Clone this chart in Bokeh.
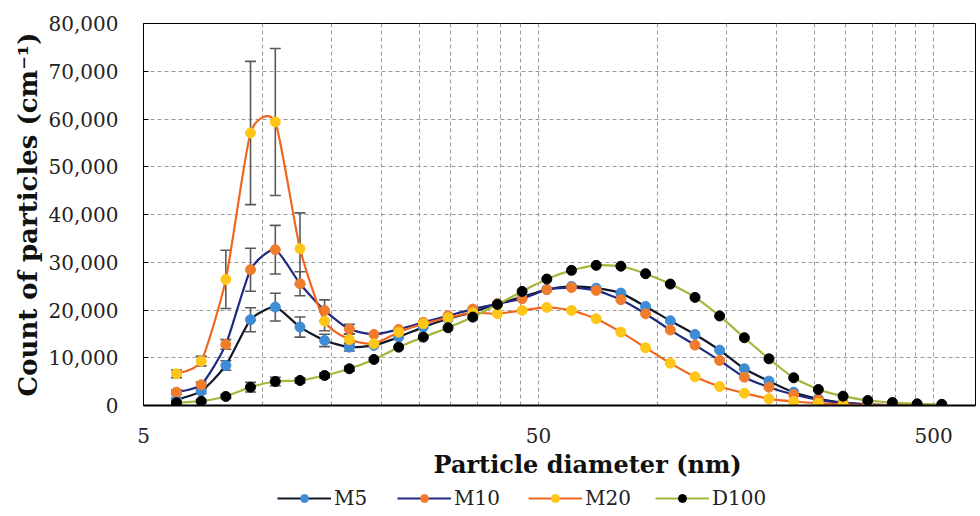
import numpy as np
from bokeh.plotting import figure
from bokeh.layouts import column
from bokeh.models import (ColumnDataSource, Whisker, TeeHead, FixedTicker,
                          NumeralTickFormatter, Legend, LegendItem, Range1d, Title)
from bokeh.embed import file_html
from bokeh.resources import INLINE

# ---------------- data ----------------
diameters = [6.06, 7.00, 8.08, 9.33, 10.78, 12.45, 14.37, 16.60, 19.16, 22.13,
             25.55, 29.51, 34.08, 39.35, 45.44, 52.48, 60.60, 69.98, 80.81, 93.32,
             107.8, 124.5, 143.7, 166.0, 191.6, 221.3, 255.5, 295.1, 340.8, 393.5,
             454.4, 524.8]

m5 = [1190, 3000, 8380, 17960, 20610, 16420, 13620, 12220, 12580, 14320,
      16420, 18170, 19560, 21320, 22700, 24300, 24940, 24570, 23540, 20750,
      17750, 14880, 11600, 7690, 5100, 2790, 1400, 600, 250, 100, 50, 20]
m10 = [2790, 4330, 12790, 28440, 32630, 25500, 19910, 16000, 14880, 15930,
       17400, 18790, 20190, 21300, 22360, 24250, 24700, 24100, 22150, 19220,
       15800, 12650, 9430, 5930, 3840, 2300, 1190, 500, 200, 80, 30, 10]
m20 = [6640, 9290, 26410, 57070, 59380, 32840, 17670, 13800, 12930, 15360,
       17120, 18380, 19430, 19220, 19910, 20540, 19910, 18170, 15360, 12090,
       8870, 6000, 3980, 2580, 1400, 840, 480, 200, 80, 30, 10, 5]
d100 = [560, 900, 1890, 3840, 5030, 5240, 6290, 7690, 9640, 12220,
        14320, 16280, 18510, 21170, 23890, 26480, 28300, 29350, 29170, 27600,
        25430, 22640, 18750, 14190, 9790, 5800, 3350, 1950, 1050, 630, 350, 250]

# error bars (first eight size channels)
err_m5 = [300, 500, 1000, 2500, 2900, 2100, 1300, 800]
err_m10 = [500, 600, 1000, 4500, 5100, 2500, 2200, 1000]
err_m20 = [800, 1000, 6100, 15000, 15400, 7500, 2000, 1200]
err_d100 = [200, 300, 400, 1000, 900, 500, 500, 500]

series_names = ["M5", "M10", "M20", "D100"]
x_title = "Particle diameter (nm)"
y_title = "Count of particles (cm\u207b\u00b9)"
x_ticks = [5, 50, 500]
x_minor = [10, 15, 20, 25, 30, 35, 40, 45, 100, 150, 200, 250, 300, 350, 400, 450, 1000]
y_ticks = [0, 10000, 20000, 30000, 40000, 50000, 60000, 70000, 80000]

# ---------------- style ----------------
FONT = "DejaVu Serif"
line_colors = ["#111827", "#1F2A80", "#F0661E", "#A8B43C"]
marker_colors = ["#3F8CD6", "#F07C2E", "#FFC61A", "#000000"]
legend_x = [134, 254, 385, 512]   # px offsets of legend entries from frame left
grid_color = "#9A9A9A"

p = figure(width=980, height=481, x_axis_type="log",
           x_range=Range1d(5, 638.6), y_range=Range1d(0, 80000),
           output_backend="svg", toolbar_location=None,
           min_border_left=143, min_border_right=5, min_border_top=23,
           min_border_bottom=76)
p.background_fill_color = "white"
p.outline_line_color = "black"
p.outline_line_width = 1

# axes
p.xaxis.ticker = FixedTicker(ticks=x_ticks, minor_ticks=x_minor)
p.xaxis.formatter = NumeralTickFormatter(format="0")
p.yaxis.ticker = FixedTicker(ticks=y_ticks)
p.yaxis.formatter = NumeralTickFormatter(format="0,0")

for ax in (p.xaxis, p.yaxis):
    ax.major_label_text_font = FONT
    ax.major_label_text_font_size = "20px"
    ax.major_label_text_color = "#222222"
    ax.axis_line_color = "black"
    ax.minor_tick_line_color = None

p.xaxis.axis_line_width = 2
p.xaxis.major_tick_line_color = None
p.xaxis.major_label_standoff = 16

p.yaxis.major_tick_in = 5
p.yaxis.major_tick_out = 0
p.yaxis.major_label_standoff = 25

# axis titles (as titles so they can be offset like the original)
p.add_layout(Title(text=x_title, align="left", offset=290, standoff=4,
                   text_font=FONT, text_font_size="24px", text_font_style="bold",
                   text_color="#111111"), "below")
p.add_layout(Title(text=y_title, align="center", offset=11, standoff=5,
                   text_font=FONT, text_font_size="26px", text_font_style="bold",
                   text_color="#111111"), "left")

# grid
p.xgrid.grid_line_color = grid_color
p.xgrid.grid_line_dash = "4 3"
p.xgrid.minor_grid_line_color = grid_color
p.xgrid.minor_grid_line_dash = "4 3"
p.ygrid.grid_line_color = grid_color
p.ygrid.grid_line_dash = "4 3"


def smooth_segments(xs, ys, k=10.0):
    """Cubic Bezier control points (Catmull-Rom style smoothing, like a
    spreadsheet's smoothed line) computed in log-x / linear-y space."""
    lx = np.log10(np.asarray(xs, float))
    y = np.asarray(ys, float)
    P = np.column_stack([lx, y])
    Pp = np.vstack([P[0], P, P[-1]])
    d = {key: [] for key in ("x0", "y0", "x1", "y1", "cx0", "cy0", "cx1", "cy1")}
    for i in range(len(P) - 1):
        p0, p1, p2, p3 = Pp[i], Pp[i + 1], Pp[i + 2], Pp[i + 3]
        c1 = p1 + (p2 - p0) / k
        c2 = p2 - (p3 - p1) / k
        d["x0"].append(float(10 ** p1[0])); d["y0"].append(float(p1[1]))
        d["x1"].append(float(10 ** p2[0])); d["y1"].append(float(p2[1]))
        d["cx0"].append(float(10 ** c1[0])); d["cy0"].append(float(c1[1]))
        d["cx1"].append(float(10 ** c2[0])); d["cy1"].append(float(c2[1]))
    return d


# legend strip below the chart (separate small figure so the legend is not
# clipped by the main plot frame); its frame is aligned with the main frame
lg = figure(width=980, height=35, x_range=Range1d(0, 1), y_range=Range1d(0, 1),
            output_backend="svg", toolbar_location=None,
            x_axis_location=None, y_axis_location=None,
            min_border_left=0, min_border_right=0, min_border_top=0,
            min_border_bottom=0)
lg.outline_line_color = None
lg.xgrid.visible = False
lg.ygrid.visible = False

all_series = [m5, m10, m20, d100]
all_errs = [err_m5, err_m10, err_m20, err_d100]
for name, ys, errs, lc, mc, lx in zip(series_names, all_series, all_errs,
                                      line_colors, marker_colors, legend_x):
    seg = ColumnDataSource(smooth_segments(diameters, ys))
    p.bezier(x0="x0", y0="y0", x1="x1", y1="y1", cx0="cx0", cy0="cy0",
             cx1="cx1", cy1="cy1", source=seg, line_color=lc, line_width=2.2)
    n = len(errs)
    esrc = ColumnDataSource(dict(
        x=diameters[:n],
        upper=[v + e for v, e in zip(ys[:n], errs)],
        lower=[v - e for v, e in zip(ys[:n], errs)]))
    w = Whisker(base="x", upper="upper", lower="lower", source=esrc,
                line_color="#5A5A5A", line_width=1.6,
                upper_head=TeeHead(size=11, line_color="#5A5A5A", line_width=1.6),
                lower_head=TeeHead(size=11, line_color="#5A5A5A", line_width=1.6))
    p.add_layout(w)
    msrc = ColumnDataSource(dict(x=diameters, y=ys))
    p.scatter("x", "y", source=msrc, size=10, fill_color=mc,
              line_color=mc, marker="circle")
    # legend swatches: same data in the legend strip, lying outside its
    # (0..1) view so only the legend icons show
    lr = lg.line("x", "y", source=msrc, line_color=lc, line_width=2.2)
    lm = lg.scatter("x", "y", source=msrc, size=8, fill_color=mc,
                    line_color=mc, marker="circle")
    leg = Legend(items=[LegendItem(label=name, renderers=[lr, lm])],
                 location=(lx, 6), glyph_width=54, glyph_height=20,
                 label_standoff=3, padding=0, margin=0,
                 border_line_color=None, background_fill_alpha=0,
                 label_text_font=FONT, label_text_font_size="20px",
                 label_text_color="#222222")
    lg.add_layout(leg, "center")

layout = column(p, lg, spacing=0)
open("out.html", "w").write(file_html(layout, INLINE))
